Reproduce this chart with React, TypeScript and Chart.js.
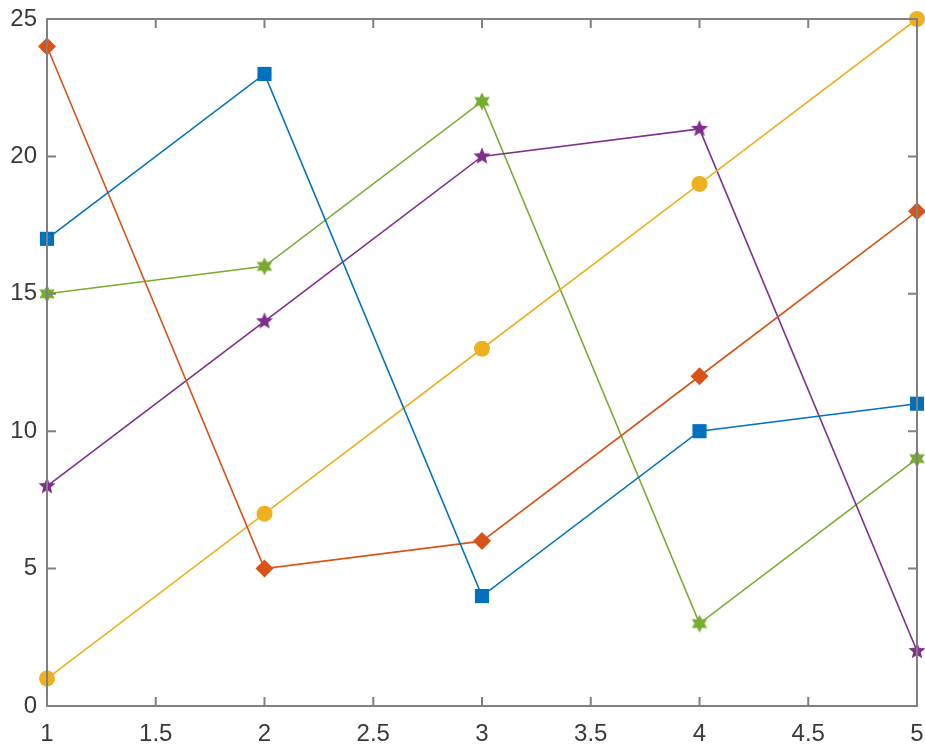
import React, { useEffect, useRef } from "react";
import { Chart, registerables } from "chart.js";

Chart.register(...registerables);

const xValues = [1, 2, 3, 4, 5];
const seriesA = [17, 23, 4, 10, 11];
const seriesB = [24, 5, 6, 12, 18];
const seriesC = [1, 7, 13, 19, 25];
const seriesD = [8, 14, 20, 21, 2];
const seriesE = [15, 16, 22, 3, 9];
const xTicks = [1, 1.5, 2, 2.5, 3, 3.5, 4, 4.5, 5];
const yTicks = [0, 5, 10, 15, 20, 25];

function starCanvas(points: number, outer: number, inner: number, color: string) {
  const size = Math.ceil(outer * 2 + 2);
  const c = document.createElement("canvas");
  c.width = size;
  c.height = size;
  const ctx = c.getContext("2d")!;
  const cx = size / 2;
  const cy = size / 2;
  ctx.beginPath();
  for (let i = 0; i < points * 2; i++) {
    const r = i % 2 === 0 ? outer : inner;
    const a = -Math.PI / 2 + (i * Math.PI) / points;
    const px = cx + r * Math.cos(a);
    const py = cy + r * Math.sin(a);
    if (i === 0) ctx.moveTo(px, py);
    else ctx.lineTo(px, py);
  }
  ctx.closePath();
  ctx.fillStyle = color;
  ctx.fill();
  return c;
}

const boxPlugin = {
  id: "boxTicks",
  afterDraw(chart: any) {
    const { ctx, chartArea } = chart;
    const { left, right, top, bottom } = chartArea;
    const xs = chart.scales.x;
    const ys = chart.scales.y;
    ctx.save();
    ctx.strokeStyle = "#808080";
    ctx.lineWidth = 2;
    const tl = 9;
    ctx.beginPath();
    xTicks.forEach((v) => {
      const px = xs.getPixelForValue(v);
      ctx.moveTo(px, bottom);
      ctx.lineTo(px, bottom - tl);
      ctx.moveTo(px, top);
      ctx.lineTo(px, top + tl);
    });
    yTicks.forEach((v) => {
      const py = ys.getPixelForValue(v);
      ctx.moveTo(left, py);
      ctx.lineTo(left + tl, py);
      ctx.moveTo(right, py);
      ctx.lineTo(right - tl, py);
    });
    ctx.stroke();
    ctx.strokeRect(left, top, right - left, bottom - top);
    ctx.restore();
  },
};

export default function App() {
  const ref = useRef<HTMLCanvasElement>(null);
  useEffect(() => {
    const mk = (ys: number[]) => xValues.map((x, i) => ({ x, y: ys[i] }));
    const purpleStar = starCanvas(5, 9, 4, "#7E2F8E");
    const greenStar = starCanvas(6, 9, 5, "#77AC30");
    const common = { borderWidth: 1.6, showLine: true, fill: false, tension: 0, clip: false };
    const chart = new Chart(ref.current!, {
      type: "scatter",
      data: {
        datasets: [
          { ...common, data: mk(seriesA), borderColor: "#0072BD", backgroundColor: "#0072BD", pointStyle: "rect", pointRadius: 10, pointBorderWidth: 0 },
          { ...common, data: mk(seriesB), borderColor: "#D95319", backgroundColor: "#D95319", pointStyle: "rectRot", pointRadius: 9, pointBorderWidth: 0 },
          { ...common, data: mk(seriesC), borderColor: "#EDB120", backgroundColor: "#EDB120", pointStyle: "circle", pointRadius: 8, pointBorderWidth: 0 },
          { ...common, data: mk(seriesD), borderColor: "#7E2F8E", backgroundColor: "#7E2F8E", pointStyle: purpleStar as any, pointRadius: 9 },
          { ...common, data: mk(seriesE), borderColor: "#77AC30", backgroundColor: "#77AC30", pointStyle: greenStar as any, pointRadius: 9 },
        ] as any,
      },
      options: {
        animation: false,
        responsive: false,
        layout: { autoPadding: false, padding: { top: 19, right: 8, left: 0, bottom: 0 } },
        plugins: { legend: { display: false }, tooltip: { enabled: false } },
        scales: {
          x: {
            type: "linear",
            min: 1,
            max: 5,
            grid: { display: false, drawTicks: false },
            border: { display: false },
            afterBuildTicks: (s: any) => { s.ticks = xTicks.map((v) => ({ value: v })); },
            afterFit: (s: any) => { s.height = 41; s.paddingLeft = 0; s.paddingRight = 0; },
            ticks: { color: "#3a3a3a", font: { family: "Liberation Sans", size: 24 }, padding: 14, maxRotation: 0, autoSkip: false, callback: (v: any) => String(v) },
          },
          y: {
            type: "linear",
            min: 0,
            max: 25,
            grid: { display: false, drawTicks: false },
            border: { display: false },
            afterBuildTicks: (s: any) => { s.ticks = yTicks.map((v) => ({ value: v })); },
            afterFit: (s: any) => { s.width = 47; s.paddingTop = 0; s.paddingBottom = 0; },
            ticks: { color: "#3a3a3a", font: { family: "Liberation Sans", size: 24 }, padding: 10, callback: (v: any) => String(v) },
          },
        },
      },
      plugins: [boxPlugin],
    });
    return () => chart.destroy();
  }, []);
  return (
    <div style={{ position: "fixed", left: 0, top: 0, width: 925, height: 747, background: "#fff" }}>
      <canvas ref={ref} width={925} height={747} style={{ display: "block" }} />
    </div>
  );
}
